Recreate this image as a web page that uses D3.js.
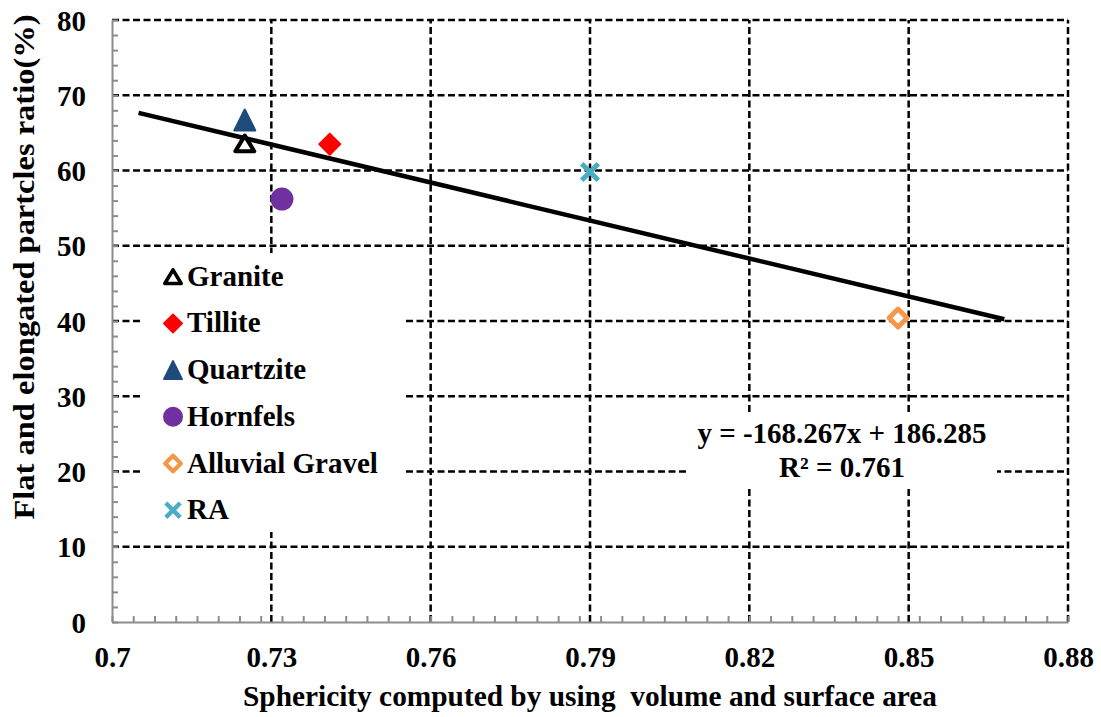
<!DOCTYPE html>
<html><head><meta charset="utf-8">
<script src="https://cdn.jsdelivr.net/npm/d3@7/dist/d3.min.js"></script>
<style>body{margin:0;background:#fff}svg{display:block}</style>
</head><body>
<svg id="c" width="1101" height="717"></svg>
<script>
const seriesNames = ["Granite","Tillite","Quartzite","Hornfels","Alluvial Gravel","RA"];
const xValues = [0.725, 0.741, 0.725, 0.732, 0.848, 0.790];
const yValues = [63.6, 63.5, 66.7, 56.2, 40.4, 59.8];
const seriesColors = ["#000000","#FF0000","#1F4A7C","#7030A0","#F79646","#4BACC6"];
const seriesShapes = ["triangleOpen","diamond","triangle","circle","diamondOpen","cross"];
const xTickValues = [0.70,0.73,0.76,0.79,0.82,0.85,0.88];
const xTickLabels = ["0.7","0.73","0.76","0.79","0.82","0.85","0.88"];
const yTickValues = [0,10,20,30,40,50,60,70,80];
const trendSlope = -168.267, trendIntercept = 186.285;
const trendRange = [0.705, 0.868];
const equationLines = ["y = -168.267x + 186.285", "R² = 0.761"];
const xTitle = "Sphericity computed by using  volume and surface area";
const yTitle = "Flat and elongated partcles ratio(%)";

const svg = d3.select("#c");
const L = 112, R = 1068, T = 20, B = 622;
const x = d3.scaleLinear().domain([0.7, 0.88]).range([L, R]);
const y = d3.scaleLinear().domain([0, 80]).range([B, T]);
const font = "Liberation Serif, Tinos, Times New Roman, DejaVu Serif, Noto Serif, serif";

// gridlines
const grid = svg.append("g").attr("stroke","#000").attr("stroke-width",2.5).attr("stroke-dasharray","7,3.5");
xTickValues.slice(1).forEach(v => grid.append("line").attr("x1",x(v)).attr("x2",x(v)).attr("y1",B).attr("y2",T));
yTickValues.slice(1).forEach(v => grid.append("line").attr("x1",L).attr("x2",R).attr("y1",y(v)).attr("y2",y(v)));

// axes with inward minor ticks
const axisColor = "#8c8c8c";
const xMinor = d3.range(0, 46).map(i => 0.7 + i*0.004);
const yMinor = d3.range(0, 41).map(i => i*2);
const xAxis = d3.axisTop(x).tickValues(xMinor).tickSize(6).tickFormat("").tickSizeOuter(0);
const yAxis = d3.axisRight(y).tickValues(yMinor).tickSize(6).tickFormat("").tickSizeOuter(0);
const gx = svg.append("g").attr("transform",`translate(0,${B})`).call(xAxis);
const gy = svg.append("g").attr("transform",`translate(${L},0)`).call(yAxis);
[gx, gy].forEach(g => {
  g.selectAll("path,line").attr("stroke",axisColor).attr("stroke-width",2);
});

// tick labels
const xl = d3.axisBottom(x).tickValues(xTickValues).tickSize(0).tickPadding(0).tickFormat((d,i)=>xTickLabels[i]);
const gxl = svg.append("g").attr("transform",`translate(0,${B})`).call(xl);
gxl.select(".domain").remove();
gxl.selectAll("text").attr("dy",null).attr("y",45).attr("font-family",font).attr("font-weight","bold").attr("font-size",29).attr("fill","#000");
const yl = d3.axisLeft(y).tickValues(yTickValues).tickSize(0).tickPadding(0);
const gyl = svg.append("g").attr("transform",`translate(${L},0)`).call(yl);
gyl.select(".domain").remove();
gyl.selectAll("text").attr("x",-26).attr("dy","0.35em").attr("font-family",font).attr("font-weight","bold").attr("font-size",29).attr("fill","#000");

// axis titles
svg.append("text").attr("x",(L+R)/2).attr("y",706).attr("text-anchor","middle")
  .attr("font-family",font).attr("font-weight","bold").attr("font-size",29).style("white-space","pre")
  .attr("textLength",694).attr("lengthAdjust","spacingAndGlyphs").text(xTitle);
svg.append("text").attr("transform","translate(34,267) rotate(-90)").attr("text-anchor","middle")
  .attr("font-family",font).attr("font-weight","bold").attr("font-size",29)
  .attr("textLength",505).attr("lengthAdjust","spacingAndGlyphs").text(yTitle);

// trendline
const line = d3.line().x(d=>x(d)).y(d=>y(trendSlope*d + trendIntercept));
svg.append("path").datum(trendRange).attr("d",line).attr("stroke","#000").attr("stroke-width",4.5).attr("fill","none");

// marker drawing
function drawMarker(g, shape, color, s) {
  const h = s/2;
  if (shape === "triangleOpen") {
    const w = s*0.82, hh = s*0.68;
    g.append("path").attr("d",`M0,${-hh/2}L${w/2},${hh/2}L${-w/2},${hh/2}Z`)
      .attr("fill","#fff").attr("stroke",color).attr("stroke-width",s*0.18).attr("stroke-linejoin","round");
  } else if (shape === "triangle") {
    const w = s*0.9, hh = s*0.9;
    g.append("path").attr("d",`M0,${-hh/2}L${w/2},${hh/2}L${-w/2},${hh/2}Z`)
      .attr("fill",color).attr("stroke",color).attr("stroke-width",s*0.1).attr("stroke-linejoin","round");
  } else if (shape === "diamond") {
    const r = h*0.92;
    g.append("path").attr("d",`M0,${-r}L${r},0L0,${r}L${-r},0Z`)
      .attr("fill",color).attr("stroke",color).attr("stroke-width",s*0.08).attr("stroke-linejoin","round");
  } else if (shape === "diamondOpen") {
    const r = h*0.78;
    g.append("path").attr("d",`M0,${-r}L${r},0L0,${r}L${-r},0Z`)
      .attr("fill","#fff").attr("stroke",color).attr("stroke-width",s*0.21).attr("stroke-linejoin","round");
  } else if (shape === "circle") {
    g.append("circle").attr("r",h).attr("fill",color);
  } else if (shape === "cross") {
    const r = h*0.72;
    g.append("path").attr("d",`M${-r},${-r}L${r},${r}M${r},${-r}L${-r},${r}`)
      .attr("stroke",color).attr("stroke-width",s*0.22).attr("fill","none");
  }
}

// equation box
svg.append("rect").attr("x",687).attr("y",412).attr("width",310).attr("height",76).attr("fill","#fff");
equationLines.forEach((t,i)=>{
  svg.append("text").attr("x",842).attr("y",443+i*33.5).attr("text-anchor","middle")
    .attr("font-family",font).attr("font-weight","bold").attr("font-size",29).text(t);
});

// points
seriesNames.forEach((n,i)=>{
  const g = svg.append("g").attr("transform",`translate(${x(xValues[i])},${y(yValues[i])})`);
  drawMarker(g, seriesShapes[i], seriesColors[i], 23);
});

// legend
svg.append("rect").attr("x",140).attr("y",253).attr("width",263).attr("height",279).attr("fill","#fff");
seriesNames.forEach((n,i)=>{
  const cy = 276.7 + i*46.7;
  const g = svg.append("g").attr("transform",`translate(173,${cy})`);
  drawMarker(g, seriesShapes[i], seriesColors[i], 20);
  svg.append("text").attr("x",187).attr("y",cy+9).attr("font-family",font).attr("font-weight","bold")
    .attr("font-size",29).text(n);
});
</script>
</body></html>
